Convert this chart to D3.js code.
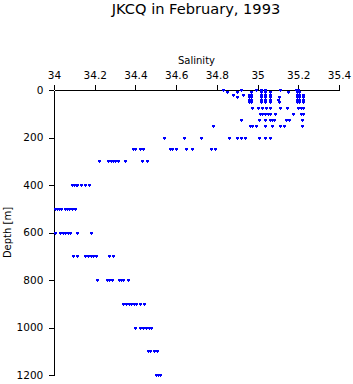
<!DOCTYPE html>
<html>
<head>
<meta charset="utf-8">
<script src="https://cdn.jsdelivr.net/npm/d3@7"></script>
<style>
  body { margin: 0; background: #fff; }
  text { font-family: "DejaVu Sans", sans-serif; fill: #000; }
  .axis path, .axis line { stroke: #000; stroke-width: 1; shape-rendering: crispEdges; }
  .axis text { font-size: 10.5px; font-family: "DejaVu Sans", sans-serif; }
</style>
</head>
<body>
<script>
// Salinity profile, JKCQ Feb 1993

const w = 353;
const h = 384;

// sample depths [m]
const depths = [0, 10, 20, 30, 40, 50, 75, 100, 125, 150, 200, 250, 300,
                400, 500, 600, 700, 800, 900, 1000, 1100, 1200];

// salinity readings at each depth (same order as depths)
const salinity = [
  [34.828, 34.921, 34.990, 35.017, 35.036, 35.110, 35.191, 35.201],
  [34.851, 34.897, 34.966, 35.017, 35.036, 35.061, 35.151, 35.194, 35.204],
  [34.881, 34.930, 34.960, 34.970, 35.017, 35.036, 35.061, 35.194, 35.204, 35.221],
  [34.900, 34.960, 34.970, 35.017, 35.036, 35.061, 35.105, 35.194, 35.204, 35.221],
  [34.960, 34.970, 35.017, 35.036, 35.061, 35.102, 35.194, 35.204, 35.221],
  [34.960, 34.970, 35.017, 35.036, 35.061, 35.105, 35.194, 35.204, 35.221],
  [34.971, 35.001, 35.022, 35.041, 35.061, 35.110, 35.143, 35.201, 35.211, 35.222],
  [35.012, 35.024, 35.036, 35.049, 35.061, 35.086, 35.176, 35.211, 35.221],
  [34.917, 35.009, 35.036, 35.059, 35.071, 35.083, 35.140, 35.154, 35.220],
  [34.780, 34.965, 34.975, 34.992, 35.036, 35.069, 35.110, 35.130, 35.217],
  [34.542, 34.640, 34.721, 34.861, 34.900, 34.920, 34.940, 35.009, 35.038, 35.061],
  [34.388, 34.398, 34.422, 34.437, 34.570, 34.580, 34.599, 34.648, 34.678, 34.771, 34.791],
  [34.223, 34.267, 34.278, 34.290, 34.300, 34.313, 34.350, 34.434, 34.455],
  [34.087, 34.096, 34.106, 34.115, 34.133, 34.152, 34.173],
  [34.005, 34.015, 34.025, 34.034, 34.056, 34.066, 34.076, 34.086, 34.103],
  [34.007, 34.029, 34.042, 34.056, 34.069, 34.081, 34.113, 34.182],
  [34.091, 34.111, 34.152, 34.169, 34.182, 34.194, 34.206, 34.270, 34.291],
  [34.213, 34.258, 34.270, 34.283, 34.317, 34.329, 34.341, 34.364],
  [34.339, 34.354, 34.368, 34.378, 34.391, 34.403, 34.421, 34.444],
  [34.400, 34.422, 34.437, 34.452, 34.467, 34.476],
  [34.462, 34.474, 34.491, 34.506],
  [34.499, 34.511, 34.523]
];

const xTicks = [34, 34.2, 34.4, 34.6, 34.8, 35, 35.2, 35.4];
const xTickLabels = ["34", "34.2", "34.4", "34.6", "34.8", "35", "35.2", "35.4"];
const yTicks = [0, 200, 400, 600, 800, 1000, 1200];

// flatten to points
const points = [];
depths.forEach((d, i) => salinity[i].forEach(s => points.push({ s: s, d: d })));

const xScale = d3.scaleLinear().domain([34, 35.4]).range([54, 339]);
const yScale = d3.scaleLinear().domain([0, 1200]).range([90, 375]);

const svg = d3.select("body").append("svg")
    .attr("width", w)
    .attr("height", h);

// Title
svg.append("text")
   .attr("x", 196)
   .attr("y", 14)
   .attr("text-anchor", "middle")
   .style("font-size", "14.6px")
   .text("JKCQ in February, 1993");

// Top axis
const topAxis = d3.axisTop(xScale)
    .tickValues(xTicks)
    .tickSize(5)
    .tickPadding(6.3)
    .tickSizeOuter(0)
    .tickFormat((d, i) => xTickLabels[i]);

svg.append("g")
   .attr("class", "axis")
   .attr("transform", "translate(0,90)")
   .call(topAxis);

// Left axis
const leftAxis = d3.axisLeft(yScale)
    .tickValues(yTicks)
    .tickSize(5)
    .tickPadding(5.7)
    .tickSizeOuter(0)
    .tickFormat(d3.format("d"));

svg.append("g")
   .attr("class", "axis")
   .attr("transform", "translate(54,0)")
   .call(leftAxis);

// Axis labels
svg.append("text")
   .attr("x", 196.5)
   .attr("y", 64)
   .attr("text-anchor", "middle")
   .style("font-size", "10px")
   .text("Salinity");

svg.append("text")
   .attr("transform", "rotate(-90)")
   .attr("x", -232.5)
   .attr("y", 10.5)
   .attr("text-anchor", "middle")
   .style("font-size", "10px")
   .text("Depth [m]");

// Points
svg.append("g")
   .selectAll("path")
   .data(points)
   .join("path")
   .attr("transform", p => "translate(" + Math.round(xScale(p.s)) + "," + Math.round(yScale(p.d)) + ")")
   .attr("d", "M-1.5,-1h3v2h-1v1h-1v-1h-1z")
   .attr("fill", "#0000ff")
   .attr("shape-rendering", "crispEdges");
</script>
</body>
</html>
